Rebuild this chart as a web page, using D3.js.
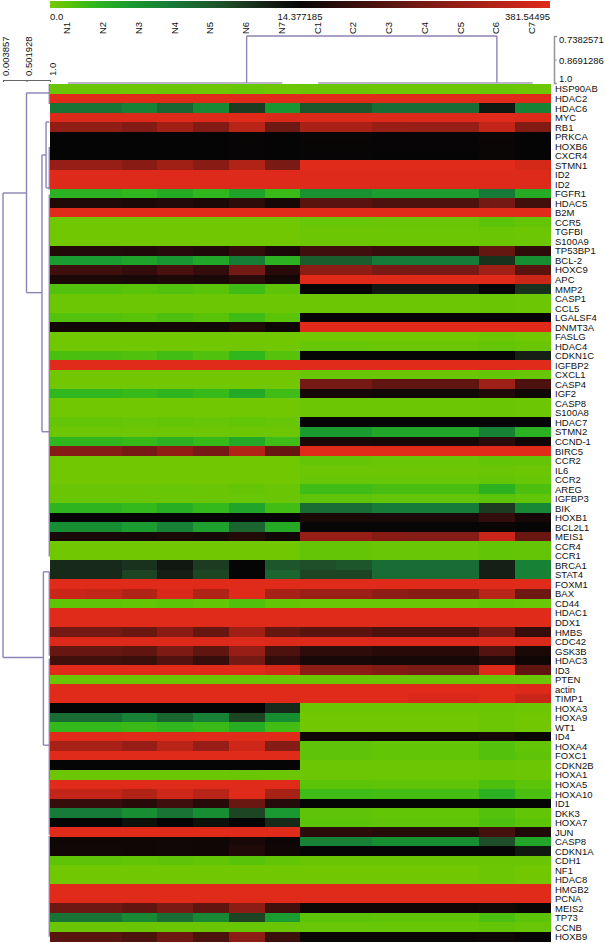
<!DOCTYPE html>
<html>
<head>
<meta charset="utf-8">
<script src="https://cdnjs.cloudflare.com/ajax/libs/d3/7.8.5/d3.min.js"></script>
<style>
  body { margin: 0; background: #fff; }
  svg { display: block; }
  text { font-family: "Liberation Sans", Arial, sans-serif; font-size: 9.5px; fill: #111; }
</style>
</head>
<body>
<svg></svg>
<script>
// Defining variables
const width = 605
const height = 943

const samples = ['N1','N2','N3','N4','N5','N6','N7','C1','C2','C3','C4','C5','C6','C7']

const genes = ['HSP90AB','HDAC2','HDAC6','MYC','RB1','PRKCA','HOXB6','CXCR4','STMN1','ID2','ID2','FGFR1','HDAC5','B2M','CCR5','TGFBI','S100A9','TP53BP1','BCL-2','HOXC9','APC','MMP2','CASP1','CCL5','LGALSF4','DNMT3A','FASLG','HDAC4','CDKN1C','IGFBP2','CXCL1','CASP4','IGF2','CASP8','S100A8','HDAC7','STMN2','CCND-1','BIRC5','CCR2','IL6','CCR2','AREG','IGFBP3','BIK','HOXB1','BCL2L1','MEIS1','CCR4','CCR1','BRCA1','STAT4','FOXM1','BAX','CD44','HDAC1','DDX1','HMBS','CDC42','GSK3B','HDAC3','ID3','PTEN','actin','TIMP1','HOXA3','HOXA9','WT1','ID4','HOXA4','FOXC1','CDKN2B','HOXA1','HOXA5','HOXA10','ID1','DKK3','HOXA7','JUN','CASP8','CDKN1A','CDH1','NF1','HDAC8','HMGB2','PCNA','MEIS2','TP73','CCNB','HOXB9']

// one row per gene, N1..N7 then C1..C7
const expression = [
  [.5,.5,.4,.5,.4,.6,.4, .5,.5,.4,.4,.4,.6,.4],
  [381,381,381,381,381,381,381, 381,381,381,381,381,381,381],
  [7.5,7.5,6.5,8.5,6,11,5, 9.5,9.5,8,8,8,13,6.5],
  [372,372,372,376,372,381,368, 372,372,372,372,372,381,372],
  [240,240,215,270,215,310,180, 280,280,255,250,250,330,215],
  [16,16,15.5,16.5,15.5,19,15, 20,20,18,18,18,26,16],
  [15.5,15.5,15,16,15,18,15, 19,19,18,18,18,24,16],
  [15,15,15,15.5,15,17,14.8, 17,17,16,16,16,20,15.5],
  [250,250,225,270,225,300,200, 381,381,381,381,381,381,360],
  [378,378,378,378,378,378,378, 378,378,378,378,378,378,378],
  [378,378,378,378,378,378,378, 378,378,378,378,378,378,378],
  [3,3,2.6,3.4,2.6,4,2.2, 5.2,5.2,4.4,4.4,4.4,7,3.4],
  [55,55,50,60,50,80,40, 150,150,130,130,130,190,110],
  [381,381,381,381,381,381,381, 381,381,381,381,381,381,381],
  [.3,.3,.3,.3,.3,.3,.3, .6,.6,.5,.5,.5,1,.7],
  [.3,.3,.3,.3,.3,.3,.3, .4,.4,.4,.4,.4,.5,.4],
  [.3,.3,.3,.3,.3,.3,.3, .4,.4,.4,.4,.4,.5,.4],
  [60,60,55,65,55,85,48, 105,105,95,95,95,165,80],
  [4.5,4.5,4,5,3.8,6.8,3, 9,9,7,7,7,11.5,5.5],
  [105,105,85,120,85,190,70, 230,230,200,195,195,270,150],
  [50,50,45,52,45,75,38, 381,381,381,381,381,381,345],
  [1.3,1.3,1.1,1.4,1.1,2,.9, 14.6,14.6,13,13,13,14.9,11.5],
  [.4,.4,.4,.4,.4,.4,.4, .4,.4,.4,.4,.4,.5,.4],
  [.4,.4,.4,.4,.4,.4,.4, .4,.4,.4,.4,.4,.5,.4],
  [1.3,1.3,1.1,1.5,1.1,2,1, 15.5,15.5,14.8,15,15,16,14.6],
  [35,35,32,38,32,55,28, 381,381,381,381,381,381,381],
  [.3,.3,.3,.3,.3,.3,.3, .3,.3,.3,.3,.3,.4,.3],
  [.3,.3,.3,.3,.3,.3,.3, .6,.6,.5,.5,.5,.7,.5],
  [1.6,1.6,1.4,1.9,1.4,2.6,1.2, 15,15,14.7,14.7,14.7,15.5,12.5],
  [381,381,381,381,381,381,381, 381,381,381,381,381,381,381],
  [.2,.2,.2,.2,.2,.2,.2, .6,.6,.5,.5,.5,.8,.6],
  [.3,.3,.3,.3,.3,.3,.3, 190,190,160,160,160,265,130],
  [2.6,2.6,2.3,2.8,2.3,3.6,2, 40,40,35,35,35,58,30],
  [.3,.3,.3,.3,.3,.3,.3, .4,.4,.4,.4,.4,.5,.4],
  [.3,.3,.3,.3,.3,.3,.3, .4,.4,.4,.4,.4,.5,.4],
  [.7,.7,.6,.7,.6,.8,.6, 15,15,15,15,15,15.5,14.8],
  [.4,.4,.4,.4,.4,.4,.4, 4.6,4.6,3.8,3.8,3.8,6.5,3],
  [2.6,2.6,2.3,3,2.3,3.6,2, 50,50,45,45,45,75,35],
  [220,220,195,240,195,300,170, 381,381,381,381,381,381,381],
  [.3,.3,.3,.3,.3,.3,.3, .7,.7,.6,.6,.6,.8,.7],
  [.3,.3,.3,.3,.3,.3,.3, .4,.4,.4,.4,.4,.5,.4],
  [.3,.3,.3,.3,.3,.3,.3, .6,.6,.6,.6,.6,.7,.6],
  [.5,.5,.5,.6,.5,.7,.5, 2,2,1.7,1.7,1.7,2.9,1.5],
  [.5,.5,.5,.5,.5,.6,.5, .9,.9,.8,.8,.8,1,.8],
  [2.8,2.8,2.4,3.2,2.4,3.9,1.9, 8,8,7,7,7,11,6],
  [15,15,14.8,15.2,14.8,17,14.6, 50,50,48,48,48,85,42],
  [5.5,5.5,4.5,6.5,4.2,8.5,3.5, 18,18,17,17,17,20,16],
  [45,45,42,50,42,60,35, 250,250,225,220,220,340,175],
  [.3,.3,.3,.3,.3,.3,.3, .7,.7,.6,.6,.6,.8,.7],
  [.3,.3,.3,.3,.3,.3,.3, .7,.7,.6,.6,.6,.8,.7],
  [12,12,11.5,13,11,14.8,9.5, 10,9.5,8,8,8,12.5,6.5],
  [12,12,10.5,12.5,10.5,14.8,8.5, 10.5,10.5,8,8,8,12.5,6.5],
  [381,381,381,381,381,381,381, 381,381,381,381,381,381,381],
  [340,330,300,370,300,381,280, 260,260,235,225,225,310,180],
  [.9,.9,.8,1,.8,1.4,.8, .6,.6,.6,.6,.6,.8,.6],
  [381,381,381,381,381,381,381, 381,381,381,381,381,381,381],
  [381,381,381,381,381,381,381, 381,381,381,381,381,381,381],
  [190,190,175,225,170,270,170, 150,150,125,125,125,190,90],
  [375,375,375,375,375,378,372, 375,375,375,375,375,378,372],
  [170,170,160,205,160,250,130, 80,80,70,70,70,140,50],
  [110,110,100,135,95,190,85, 45,45,40,40,40,60,30],
  [381,381,381,381,381,381,360, 230,230,215,200,200,375,160],
  [.5,.5,.5,.5,.5,.6,.5, .5,.5,.5,.5,.5,.6,.5],
  [381,381,381,381,381,381,381, 381,381,381,381,381,381,375],
  [381,381,381,381,381,381,381, 381,381,381,370,370,381,340],
  [14.8,14.8,14.8,15,14.8,15.2,12, .4,.4,.4,.4,.4,.5,.4],
  [8,8,6.5,8.5,6.5,10.5,5.5, .3,.3,.3,.3,.3,.4,.3],
  [2.4,2.4,2.2,2.6,2.2,3.3,1.9, .3,.3,.3,.3,.3,.4,.3],
  [381,381,381,381,381,381,381, 30,30,28,28,28,40,22],
  [280,280,250,310,250,350,220, .9,.9,.8,.8,.8,1.3,.8],
  [381,381,381,381,381,381,381, .9,.9,.8,.8,.8,1.3,.9],
  [15,15,15,15,15,15.2,15, .4,.4,.4,.4,.4,.5,.4],
  [.4,.4,.4,.4,.4,.5,.4, .4,.4,.4,.4,.4,.5,.4],
  [381,381,381,381,381,381,381, 1,1,.9,.9,.9,1.5,1],
  [330,330,300,350,310,381,280, 2,2,1.8,1.8,1.8,3,1.6],
  [90,90,70,105,70,175,65, 15.5,15,15,15,15,16,14.8],
  [7,7,5.5,7.5,5.5,10.5,4.8, .9,.9,.8,.8,.8,1.3,.8],
  [14.8,14.8,13.5,14.8,13.5,14.8,12, 1,1,.9,.9,.9,1.5,1],
  [381,381,381,381,381,381,381, 75,75,65,65,65,115,55],
  [30,30,28,32,28,45,25, 6.5,6.5,5.5,5.5,5.5,10,3.8],
  [32,32,28,35,28,55,28, 15,15,14.8,14.8,14.8,15,13],
  [.9,.9,.8,.9,.8,1.1,.8, .5,.5,.5,.5,.5,.5,.5],
  [.3,.3,.3,.3,.3,.3,.3, .3,.3,.3,.3,.3,.4,.3],
  [.3,.3,.3,.3,.3,.3,.3, .3,.3,.3,.3,.3,.4,.3],
  [381,381,381,381,381,381,381, 381,381,381,381,381,381,381],
  [381,381,381,381,381,381,381, 381,381,381,381,381,381,381],
  [180,180,160,200,160,230,110, 30,30,28,28,28,38,22],
  [7.5,7.5,6,8,6,10.5,4.5, 1,1,.9,.9,.9,1.6,1],
  [.5,.5,.5,.5,.5,.6,.5, .6,.6,.6,.6,.6,.7,.6],
  [150,150,125,180,125,230,100, 22,22,20,20,20,28,18]
]

// colour legend
const legendValues = [0, 14.377185, 381.54495]
const legendLabels = ['0.0', '14.377185', '381.54495']
const colorValues = [0, 1, 2.5, 4.5, 7, 10, 12.5, 14.377185, 200, 381.54495]
const colorRange = ['#78c800', '#5cc408', '#30b81c', '#1a9c30', '#167a38', '#1f4f28', '#151f15', '#050505', '#7a1a14', '#e02a1a']

// row tree: distance of the bracket, row positions of its two ends, distances its arms reach
const rowTreeDist = [0.003857, 0.501928, 0.83, 0.916, 0.86, 0.985, 0.985, 0.985, 0.985, 0.985, 0.985]
const rowTreeTop = [11.44, 0.94, 7.45, 3.99, 51.2, 0, 6.6, 11.6, 51.2, 60.3, 78.9]
const rowTreeBottom = [60.2, 21.9, 36.5, 10.9, 69.4, 2.1, 11.1, 49.6, 60, 78.8, 89.5]
const rowTreeArmTop = [0.501928, 0.985, 0.916, 0.985, 0.985, null, null, null, null, null, null]
const rowTreeArmBottom = [0.86, 0.83, 0.985, 0.985, 0.985, null, null, null, null, null, null]

// column tree
const colTreeDist = 0.7382571
const colTreeLeft = 'N6'
const colTreeRight = 'C6'
const colGroups = [['N1','N7'], ['C1','C7']]

const rowAxisTicks = [0.003857, 0.501928, 1]
const rowAxisLabels = ['0.003857', '0.501928', '1.0']
const colAxisTicks = [0.7382571, 0.8691286, 1]
const colAxisLabels = ['0.7382571', '0.8691286', '1.0']

const treeColor = '#8e82b6'
const axisColor = '#999'
const labelFont = '"Liberation Sans", Arial, sans-serif'

// Creating svg canvas
const svg = d3.select('svg')
              .attr('width', width)
              .attr('height', height)

// Create scales
const xScale = d3.scaleBand().domain(samples).range([50, 550.5])
const yScale = d3.scaleBand().domain(d3.range(genes.length)).range([84, 941.5])
const yPos = d3.scaleLinear().domain([0, genes.length]).range([84, 941.5])
const colorScale = d3.scaleLinear().domain(colorValues).range(colorRange).clamp(true)
const legendScale = d3.scaleLinear().domain(legendValues).range([50, 300, 550])
const rowDist = d3.scaleLinear().domain([0.003857, 1]).range([3, 50])
const colDist = d3.scaleLinear().domain([0.7382571, 1]).range([36, 83])

let drawLegend = () => {
    const grad = svg.append('defs')
                    .append('linearGradient')
                    .attr('id', 'legend-grad')
    grad.selectAll('stop')
        .data(colorValues)
        .enter()
        .append('stop')
        .attr('offset', d => (legendScale(d) - 50) / 500)
        .attr('stop-color', d => colorScale(d))

    svg.append('rect')
        .attr('x', legendScale(0))
        .attr('y', 1)
        .attr('width', legendScale(381.54495) - legendScale(0))
        .attr('height', 7)
        .attr('fill', 'url(#legend-grad)')

    svg.selectAll('.legend-label')
        .data(legendValues)
        .enter()
        .append('text')
        .attr('class', 'legend-label')
        .attr('x', d => legendScale(d))
        .attr('y', 19.5)
        .attr('text-anchor', (d, i) => ['start', 'middle', 'end'][i])
        .text((d, i) => legendLabels[i])
}

let drawCells = () => {
    const rows = svg.selectAll('.row')
                    .data(expression)
                    .enter()
                    .append('g')
                    .attr('class', 'row')
                    .attr('transform', (d, i) => 'translate(0, ' + yScale(i) + ')')

    rows.selectAll('rect')
        .data(d => d)
        .enter()
        .append('rect')
        .attr('x', (d, i) => xScale(samples[i]))
        .attr('width', xScale.bandwidth() + 0.5)
        .attr('height', yScale.bandwidth() + 0.5)
        .attr('fill', d => colorScale(d))
        .attr('shape-rendering', 'crispEdges')
}

let drawLabels = () => {
    svg.selectAll('.gene')
        .data(genes)
        .enter()
        .append('text')
        .attr('class', 'gene')
        .attr('x', 555)
        .attr('y', (d, i) => yScale(i) + yScale.bandwidth() / 2 + 3.7)
        .text(d => d)

    svg.selectAll('.sample')
        .data(samples)
        .enter()
        .append('text')
        .attr('class', 'sample')
        .attr('transform', d => 'translate(' + (xScale(d) + xScale.bandwidth() / 2 + 2.5) + ', 34) rotate(-90)')
        .text(d => d)
}

let drawTrees = () => {
    const line = (x1, y1, x2, y2, color) => svg.append('line')
        .attr('x1', x1).attr('y1', y1).attr('x2', x2).attr('y2', y2)
        .attr('stroke', color || treeColor)
        .attr('stroke-width', 1.4)

    // row tree
    rowTreeDist.forEach((dist, i) => {
        line(rowDist(dist), yPos(rowTreeTop[i]), rowDist(dist), yPos(rowTreeBottom[i]))
        if (rowTreeArmTop[i] !== null) {
            line(rowDist(dist), yPos(rowTreeTop[i]), rowDist(rowTreeArmTop[i]), yPos(rowTreeTop[i]))
            line(rowDist(dist), yPos(rowTreeBottom[i]), rowDist(rowTreeArmBottom[i]), yPos(rowTreeBottom[i]))
        }
    })

    // column tree
    const mid = d => xScale(d) + xScale.bandwidth() / 2
    line(mid(colTreeLeft), colDist(colTreeDist), mid(colTreeRight), colDist(colTreeDist))
    line(mid(colTreeLeft), colDist(colTreeDist), mid(colTreeLeft), colDist(1))
    line(mid(colTreeRight), colDist(colTreeDist), mid(colTreeRight), colDist(1))
    colGroups.forEach(g => line(mid(g[0]), colDist(1), mid(g[1]), colDist(1), '#a49cb8'))
}

let generateAxes = () => {
    const colAxis = d3.axisRight(colDist)
                      .tickValues(colAxisTicks)
                      .tickFormat((d, i) => colAxisLabels[i])
                      .tickSize(3)
                      .tickPadding(2)
    const colG = svg.append('g')
                    .attr('id', 'col-axis')
                    .attr('transform', 'translate(554, 0)')
                    .call(colAxis)
    colG.select('.domain').attr('stroke', axisColor).attr('stroke-width', 1.6)
    colG.selectAll('.tick line').attr('stroke', axisColor)
    colG.selectAll('.tick text')
        .style('font-family', labelFont)
        .style('font-size', '9.5px')
        .attr('fill', '#111')
        .attr('dy', (d, i) => [6.5, 3.5, -1.5][i])

    const rowAxis = d3.axisBottom(rowDist)
                      .tickValues(rowAxisTicks)
                      .tickFormat((d, i) => rowAxisLabels[i])
                      .tickSize(2)
    const rowG = svg.append('g')
                    .attr('id', 'row-axis')
                    .attr('transform', 'translate(0, 80)')
                    .call(rowAxis)
    rowG.select('.domain').attr('stroke', '#666')
    rowG.selectAll('.tick line').attr('stroke', '#666')
    rowG.selectAll('.tick text')
        .style('font-family', labelFont)
        .style('font-size', '9.5px')
        .attr('fill', '#111')
        .attr('text-anchor', 'start')
        .attr('dy', 0)
        .attr('y', 0)
        .attr('transform', 'translate(5.5, -4) rotate(-90)')
}

drawLegend()
drawCells()
drawLabels()
drawTrees()
generateAxes()
</script>
</body>
</html>
